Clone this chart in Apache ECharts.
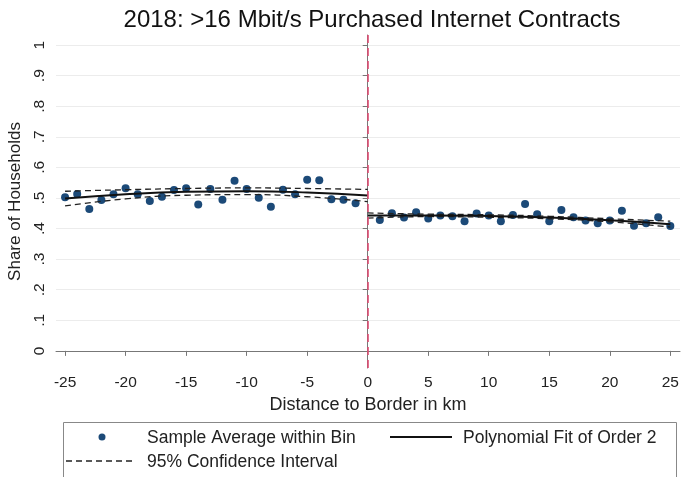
<!DOCTYPE html>
<html>
<head>
<meta charset="utf-8">
<script src="https://cdn.jsdelivr.net/npm/echarts@6/dist/echarts.min.js"></script>
<style>
  html, body { margin: 0; padding: 0; background: #fff; }
  #chart { width: 682px; height: 477px; }
</style>
</head>
<body>
<div id="chart"></div>
<script>
// Bin averages, west of the border (km -25 .. -1)
const leftKm = [-25, -24, -23, -22, -21, -20, -19, -18, -17, -16, -15, -14, -13, -12, -11, -10, -9, -8, -7, -6, -5, -4, -3, -2, -1];
const leftShare = [0.502, 0.513, 0.464, 0.493, 0.512, 0.532, 0.512, 0.490, 0.504, 0.526, 0.532, 0.479, 0.529, 0.494, 0.556, 0.529, 0.501, 0.471, 0.527, 0.512, 0.560, 0.558, 0.496, 0.494, 0.483];
// Bin averages, east of the border (km 1 .. 25)
const rightKm = [1, 2, 3, 4, 5, 6, 7, 8, 9, 10, 11, 12, 13, 14, 15, 16, 17, 18, 19, 20, 21, 22, 23, 24, 25];
const rightShare = [0.428, 0.450, 0.436, 0.453, 0.433, 0.443, 0.440, 0.424, 0.449, 0.443, 0.424, 0.444, 0.480, 0.447, 0.424, 0.461, 0.437, 0.426, 0.417, 0.426, 0.458, 0.409, 0.417, 0.437, 0.408];

// Quadratic fit and 95% band, sampled every 5 km on each side
const fitLeftKm = [-25, -20, -15, -10, -5, 0];
const fitLeft = [0.498, 0.512, 0.520, 0.522, 0.518, 0.508];
const ciLeftHi = [0.522, 0.527, 0.531, 0.533, 0.531, 0.528];
const ciLeftLo = [0.474, 0.497, 0.509, 0.511, 0.504, 0.488];
const fitRightKm = [0, 5, 10, 15, 20, 25];
const fitRight = [0.443, 0.443, 0.441, 0.436, 0.427, 0.414];
const ciRightHi = [0.451, 0.447, 0.445, 0.440, 0.432, 0.424];
const ciRightLo = [0.434, 0.439, 0.437, 0.432, 0.422, 0.405];

const xTicks = [-25, -20, -15, -10, -5, 0, 5, 10, 15, 20, 25];
const yTicks = [0, 0.1, 0.2, 0.3, 0.4, 0.5, 0.6, 0.7, 0.8, 0.9, 1];
const yTickLabels = ['0', '.1', '.2', '.3', '.4', '.5', '.6', '.7', '.8', '.9', '1'];

const pairs = (xs, ys) => xs.map((x, i) => [x, ys[i]]);

const FONT = 'Liberation Sans, Arial, sans-serif';
const DOT = '#1c4a78';

const fitLine = (data) => ({
  type: 'line', data, smooth: true, symbol: 'none', z: 4,
  lineStyle: { color: '#111', width: 2 }
});
const ciLine = (data) => ({
  type: 'line', data, smooth: true, symbol: 'none', z: 3,
  lineStyle: { color: '#222', width: 1.3, type: [6, 4] }
});

const chart = echarts.init(document.getElementById('chart'), null, { renderer: 'canvas' });
chart.setOption({
  animation: false,
  backgroundColor: '#fff',
  title: {
    text: '2018: >16 Mbit/s Purchased Internet Contracts',
    left: 367, top: 3, textAlign: 'center',
    textStyle: { fontFamily: FONT, fontSize: 24, fontWeight: 'normal', color: '#111' }
  },
  grid: { left: 56, right: 2, top: 35, bottom: 109, containLabel: false, outerBoundsMode: 'none' },
  xAxis: {
    type: 'value', min: -25.75, max: 25.8,
    name: 'Distance to Border in km', nameLocation: 'middle', nameGap: 26,
    nameTextStyle: { fontFamily: FONT, fontSize: 18, color: '#222' },
    axisLine: { lineStyle: { color: '#777', width: 1 } },
    axisTick: { show: true, length: 5, customValues: xTicks, lineStyle: { color: '#777' } },
    axisLabel: { customValues: xTicks, fontFamily: FONT, fontSize: 15.5, color: '#222', margin: 7 },
    splitLine: { show: false }
  },
  yAxis: {
    type: 'value', min: -0.056, max: 1.033,
    name: 'Share of Households', nameLocation: 'middle', nameGap: 30, nameRotate: 90,
    nameTextStyle: { fontFamily: FONT, fontSize: 17, color: '#222' },
    axisLine: { show: true, lineStyle: { color: '#777', width: 1 } },
    axisTick: { show: true, length: 5, customValues: yTicks, lineStyle: { color: '#777' } },
    axisLabel: {
      customValues: yTicks, rotate: 90, fontFamily: FONT, fontSize: 15.5, color: '#222', margin: 8,
      formatter: (v) => yTickLabels[yTicks.findIndex(t => Math.abs(t - v) < 1e-9)]
    },
    splitLine: { show: true, lineStyle: { color: '#ececec', width: 1 } }
  },
  series: [
    {
      type: 'scatter', data: pairs(leftKm, leftShare), symbolSize: 8, z: 2,
      itemStyle: { color: DOT, opacity: 1 }
    },
    {
      type: 'scatter', data: pairs(rightKm, rightShare), symbolSize: 8, z: 2,
      itemStyle: { color: DOT, opacity: 1 },
      markLine: {
        silent: true, symbol: 'none', label: { show: false },
        lineStyle: { color: '#dc4c72', width: 1.6, type: [8, 5], opacity: 1 },
        data: [{ xAxis: 0 }]
      }
    },
    ciLine(pairs(fitLeftKm, ciLeftHi)),
    ciLine(pairs(fitLeftKm, ciLeftLo)),
    ciLine(pairs(fitRightKm, ciRightHi)),
    ciLine(pairs(fitRightKm, ciRightLo)),
    fitLine(pairs(fitLeftKm, fitLeft)),
    fitLine(pairs(fitRightKm, fitRight))
  ],
  graphic: [
    { type: 'rect', shape: { x: 63.5, y: 422.5, width: 613, height: 60 },
      style: { fill: '#fff', stroke: '#888', lineWidth: 1 } },
    { type: 'circle', shape: { cx: 102, cy: 437, r: 3.5 }, style: { fill: DOT } },
    { type: 'text', x: 147, y: 438, style: { text: 'Sample Average within Bin', font: '17.5px ' + FONT, fill: '#222', verticalAlign: 'middle' } },
    { type: 'line', shape: { x1: 390, y1: 437, x2: 452, y2: 437 }, style: { stroke: '#111', lineWidth: 2 } },
    { type: 'text', x: 463, y: 438, style: { text: 'Polynomial Fit of Order 2', font: '17.5px ' + FONT, fill: '#222', verticalAlign: 'middle' } },
    { type: 'line', shape: { x1: 66, y1: 461, x2: 134, y2: 461 }, style: { stroke: '#222', lineWidth: 1.3, lineDash: [6, 4] } },
    { type: 'text', x: 147, y: 462, style: { text: '95% Confidence Interval', font: '17.5px ' + FONT, fill: '#222', verticalAlign: 'middle' } }
  ]
});
</script>
</body>
</html>
